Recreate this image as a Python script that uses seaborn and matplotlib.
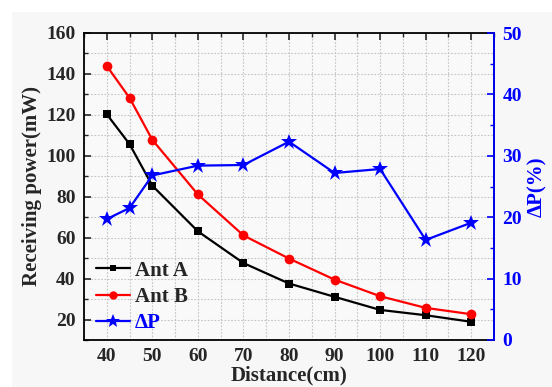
import matplotlib
matplotlib.use("Agg")
import matplotlib.pyplot as plt
import seaborn as sns
import pandas as pd
from matplotlib.patches import Rectangle
from matplotlib.ticker import MultipleLocator
from matplotlib.lines import Line2D

distance = [40, 45, 50, 60, 70, 80, 90, 100, 110, 120]
ant_a = [120.3, 105.7, 85.4, 63.1, 47.6, 37.6, 31.1, 24.7, 22.1, 18.9]
ant_b = [143.9, 128.3, 107.8, 81.1, 61.1, 49.8, 39.5, 31.4, 25.7, 22.6]
delta_p = [19.7, 21.5, 26.8, 28.4, 28.5, 32.3, 27.2, 27.85, 16.3, 19.1]
x_ticks = [40, 50, 60, 70, 80, 90, 100, 110, 120]
y_ticks = [20, 40, 60, 80, 100, 120, 140, 160]
y2_ticks = [0, 10, 20, 30, 40, 50]

df = pd.DataFrame({"Distance": distance, "Ant A": ant_a, "Ant B": ant_b, "dP": delta_p})

sns.set_style("white")
plt.rcParams['font.family'] = ['Liberation Serif', 'DejaVu Serif']
plt.rcParams['font.weight'] = 'bold'

fig = plt.figure(figsize=(5.52, 3.87), dpi=100)
fig.patches.append(Rectangle((12/552, 0), 1, 1 - 12/387, transform=fig.transFigure,
                             facecolor='#f7f7f7', edgecolor='none', zorder=-10))
ax = fig.add_axes([84/552, 1 - 340/387, 410/552, 307/387])
ax.set_facecolor('#f9f9f9')

sns.lineplot(data=df, x="Distance", y="Ant A", ax=ax, color='black', marker='s',
             markersize=6, markeredgewidth=0, linewidth=1.6)
sns.lineplot(data=df, x="Distance", y="Ant B", ax=ax, color='#ff0000', marker='o',
             markersize=7, markeredgewidth=0, linewidth=1.6)

ax.set_xlim(35, 125)
ax.set_ylim(10, 160)
ax.set_xticks(x_ticks)
ax.set_yticks(y_ticks)
ax.xaxis.set_minor_locator(MultipleLocator(5))
ax.yaxis.set_minor_locator(MultipleLocator(10))
ax.grid(True, which='both', color='#c4c4c4', linestyle=(0, (1.5, 1.5)), linewidth=0.8)
ax.tick_params(axis='both', which='major', direction='in', length=5, width=1.2,
               labelsize=14, top=True, right=False, pad=6)
ax.tick_params(axis='both', which='minor', direction='in', length=3, width=1.0, top=True, right=False)
for lab in ax.get_xticklabels() + ax.get_yticklabels():
    lab.set_fontweight('bold')
for s in ax.spines.values():
    s.set_linewidth(1.3)
    s.set_color('black')
ax.set_xlabel("Distance(cm)", fontsize=15, fontweight='bold', labelpad=0)
ax.set_ylabel("Receiving power(mW)", fontsize=15, fontweight='bold', labelpad=3)

ax2 = ax.twinx()
sns.lineplot(data=df, x="Distance", y="dP", ax=ax2, color='#0000ff', marker='*',
             markersize=12, markeredgewidth=0, linewidth=1.6)
ax2.set_ylim(0, 50)
ax2.set_yticks(y2_ticks)
ax2.yaxis.set_minor_locator(MultipleLocator(5))
ax2.tick_params(axis='y', which='major', direction='in', length=5, width=1.2,
                labelsize=14, colors='#0000ff', pad=6)
ax2.tick_params(axis='y', which='minor', direction='in', length=3, width=1.0, colors='#0000ff')
for lab in ax2.get_yticklabels():
    lab.set_fontweight('bold')
ax2.spines['right'].set_color('#0000ff')
ax2.spines['right'].set_linewidth(1.3)
for k in ['left', 'top', 'bottom']:
    ax2.spines[k].set_visible(False)
ax2.set_ylabel("ΔP(%)", fontsize=15, fontweight='bold', color='#0000ff', labelpad=4)
ax2.grid(False)

handles = [
    Line2D([], [], color='black', marker='s', markersize=5, linewidth=1.6, markeredgewidth=0),
    Line2D([], [], color='#ff0000', marker='o', markersize=6, linewidth=1.6, markeredgewidth=0),
    Line2D([], [], color='#0000ff', marker='*', markersize=10, linewidth=1.6, markeredgewidth=0),
]
leg = ax.legend(handles, ["Ant A", "Ant B", "ΔP"], loc='lower left', frameon=False,
                prop={'size': 15, 'weight': 'bold'}, handlelength=1.6, handletextpad=0.25,
                labelspacing=0.3, borderaxespad=0.0, bbox_to_anchor=(0.01, -0.005))
leg.get_texts()[2].set_color('#0000ff')

fig.savefig("out.png", dpi=100, facecolor='white')
